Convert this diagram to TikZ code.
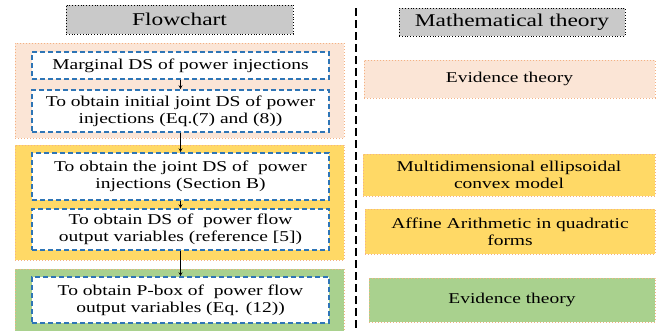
\documentclass[tikz,border=0pt]{standalone}
\usepackage{fontspec}
\setmainfont{Liberation Serif}[FakeStretch=1.3]
\usetikzlibrary{arrows.meta}
\definecolor{pinkc}{HTML}{FBE5D6}
\definecolor{yellowc}{HTML}{FFD966}
\definecolor{greenc}{HTML}{A9D18E}
\definecolor{orangeb}{HTML}{F4B183}
\definecolor{blueb}{HTML}{2E75B6}
\definecolor{grayc}{HTML}{C9C9C9}
\tikzset{
  grp/.style={draw=orangeb, line width=1pt, dotted, rectangle, inner sep=0pt},
  stepbox/.style={draw=blueb, fill=white, line width=1.6pt, dash pattern=on 5pt off 3pt, rectangle, inner sep=0pt, minimum width=297pt, align=center, font=\fontsize{15}{17}\selectfont},
  hdr/.style={draw=black, fill=grayc, line width=0.8pt, dotted, rectangle, inner sep=0pt, font=\fontsize{18}{20}\selectfont},
  theory/.style={draw=orangeb, line width=1pt, dotted, rectangle, inner sep=0pt, align=center, font=\fontsize{15}{17}\selectfont},
  arr/.style={-{Stealth[length=4pt,width=4pt]}, line width=0.8pt, black},
}
\begin{document}
\begin{tikzpicture}[x=1pt,y=-1pt]
\useasboundingbox (0,0) rectangle (663,330);
\clip (0,0) rectangle (663,330);
% headers
\node[hdr, minimum width=227pt, minimum height=29pt] (fh) at (179.5,19.5) {Flowchart};
\node[hdr, minimum width=226pt, minimum height=28pt] (mh) at (512,22) {Mathematical theory};
% groups
\node[grp, fill=pinkc, minimum width=329pt, minimum height=95pt] (g1) at (179.5,90.5) {};
\node[grp, fill=yellowc, minimum width=329pt, minimum height=115pt] (g2) at (179.5,202.5) {};
\node[grp, fill=greenc, minimum width=329pt, minimum height=71pt] (g3) at (179.5,304.5) {};
% steps
\node[stepbox, minimum height=27pt] (b1) at (180.5,65.5) {Marginal DS of power injections};
\node[stepbox, minimum height=42pt] (b2) at (180.5,111) {To obtain initial joint DS of power\\injections (Eq.(7) and (8))};
\node[stepbox, minimum height=47pt] (b3) at (180.5,176.5) {To obtain the joint DS of\ \ power\\injections (Section B)};
\node[stepbox, minimum height=41pt] (b4) at (180.5,229.5) {To obtain DS of\ \ power flow\\output variables (reference [5])};
\node[stepbox, minimum height=46pt] (b5) at (180.5,300) {To obtain P-box of\ \ power flow\\output variables (Eq. (12))};
% arrows
\draw[arr] (b1.south) -- (b2.north);
\draw[arr] (b2.south) -- (b3.north);
\draw[arr] (b3.south) -- (b4.north);
\draw[arr] (b4.south) -- (b5.north);
% separator
\coordinate (s1) at (356,8);
\coordinate (s2) at (356,332);
\draw[line width=2.8pt, dash pattern=on 8pt off 4pt] (s1) -- (s2);
% theory boxes
\node[theory, fill=pinkc, minimum width=291pt, minimum height=38pt] (t1) at (509.5,79) {Evidence theory};
\node[theory, fill=yellowc, minimum width=292pt, minimum height=42pt] (t2) at (509,175) {Multidimensional ellipsoidal\\convex model};
\node[theory, fill=yellowc, minimum width=290pt, minimum height=45pt] (t3) at (510,231.5) {Affine Arithmetic in quadratic\\forms};
\node[theory, fill=greenc, minimum width=286pt, minimum height=44pt] (t4) at (512,300) {Evidence theory};
\end{tikzpicture}
\end{document}
